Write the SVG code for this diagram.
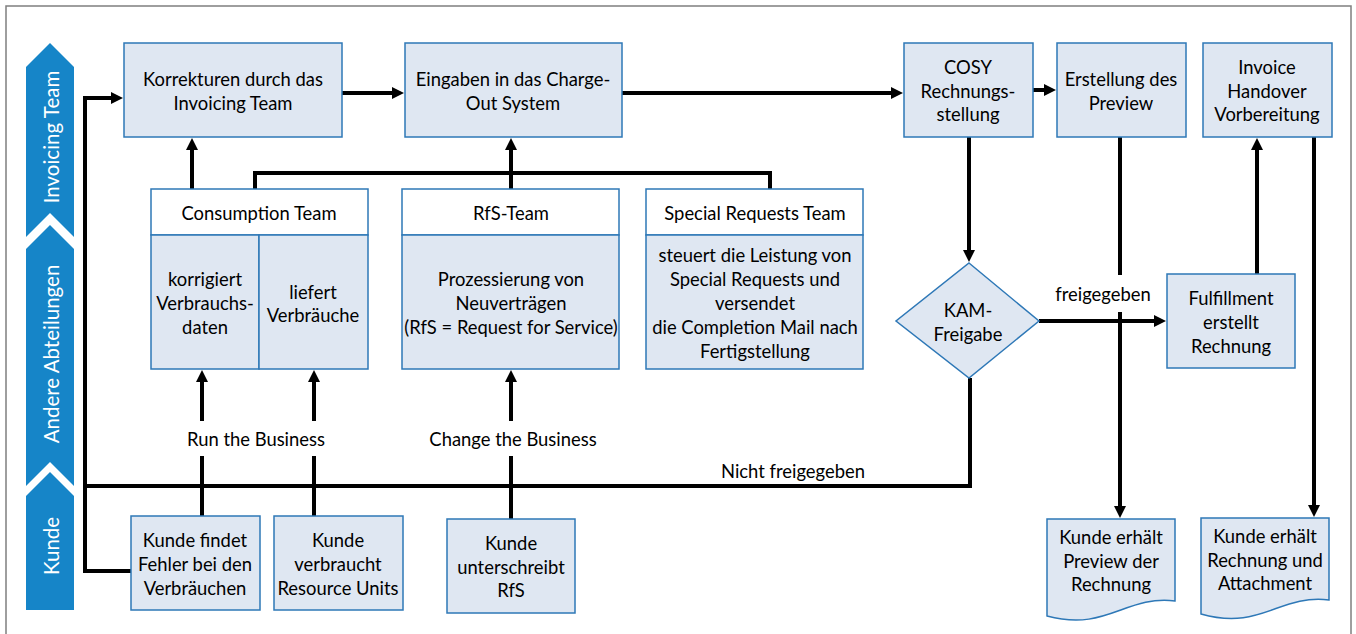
<svg xmlns="http://www.w3.org/2000/svg" width="1356" height="634" viewBox="0 0 1356 634">
<style>
.frame{fill:#fff;stroke:#7f7f7f;stroke-width:1.5}
.lane{fill:#1685c8}
.lt{font-family:Lato,"Open Sans",sans-serif;font-size:20.5px;fill:#fff;text-anchor:middle}
.box{fill:#dfe7f2;stroke:#2e78b7;stroke-width:1.5}
.hdr{fill:#fff;stroke:#2e78b7;stroke-width:1.5}
.t{font-family:Lato,"Open Sans",sans-serif;font-size:18.4px;fill:#000;text-anchor:middle;dominant-baseline:central}
.c{fill:none;stroke:#000;stroke-width:4}
.a{marker-end:url(#ah)}
</style>
<defs>
<marker id="ah" viewBox="0 0 12 12" refX="1" refY="6" markerWidth="12" markerHeight="12" markerUnits="userSpaceOnUse" orient="auto">
<path d="M0,0 L12,6 L0,12 Z" fill="#000"/>
</marker>
</defs>
<rect class="frame" x="6" y="6" width="1345" height="640"/>

<g id="lane-invoicing">
<polygon class="lane" points="50,43 74,67 74,237 50,213 26,237 26,67"/>
<text class="lt" transform="translate(59,137) rotate(-90)">Invoicing Team</text>
</g>
<g id="lane-andere">
<polygon class="lane" points="50,225 74,249 74,486 50,462 26,486 26,249"/>
<text class="lt" transform="translate(59,354) rotate(-90)">Andere Abteilungen</text>
</g>
<g id="lane-kunde">
<polygon class="lane" points="50,472 74,496 74,610 26,610 26,496"/>
<text class="lt" transform="translate(59,546) rotate(-90)">Kunde</text>
</g>

<g id="connectors">
<path class="c a" d="M342,93 H393"/>
<path class="c a" d="M622,93 H892"/>
<path class="c a" d="M1033,90 H1045"/>
<path class="c a" d="M192,189 V149"/>
<path class="c" d="M255,189 V173 H770 V189"/>
<path class="c a" d="M511,189 V149"/>
<path class="c a" d="M969,137 V251"/>
<path class="c a" d="M1039,321 H1155"/>
<path class="c" d="M1120,137 V275"/>
<path class="c a" d="M1120,312 V507"/>
<path class="c a" d="M1257,274 V149"/>
<path class="c a" d="M1314,137 V506"/>
<path class="c a" d="M970,378 V486 H85 V98 H112"/>
<path class="c" d="M131,571 H85 V486"/>
<path class="c" d="M202,516 V456"/>
<path class="c a" d="M202,421 V381"/>
<path class="c" d="M314,516 V456"/>
<path class="c a" d="M314,421 V381"/>
<path class="c" d="M511,519 V456"/>
<path class="c a" d="M511,421 V381"/>
<text class="t" x="256" y="439">Run the Business</text>
<text class="t" x="513" y="439">Change the Business</text>
<text class="t" x="793" y="471">Nicht freigegeben</text>
<text class="t" x="1103" y="294">freigegeben</text>
</g>

<g id="korrekturen">
<rect class="box" x="124" y="43" width="218" height="94"/>
<text class="t" x="233" y="79">Korrekturen durch das</text>
<text class="t" x="233" y="103">Invoicing Team</text>
</g>
<g id="eingaben">
<rect class="box" x="405" y="43" width="217" height="94"/>
<text class="t" x="513" y="79">Eingaben in das Charge-</text>
<text class="t" x="513" y="103">Out System</text>
</g>
<g id="cosy">
<rect class="box" x="904" y="43" width="129" height="94"/>
<text class="t" x="968" y="67">COSY</text>
<text class="t" x="968" y="91">Rechnungs-</text>
<text class="t" x="968" y="114">stellung</text>
</g>
<g id="erstellung">
<rect class="box" x="1057" y="43" width="129" height="94"/>
<text class="t" x="1121" y="79">Erstellung des</text>
<text class="t" x="1121" y="103">Preview</text>
</g>
<g id="handover">
<rect class="box" x="1203" y="43" width="129" height="94"/>
<text class="t" x="1267" y="67">Invoice</text>
<text class="t" x="1267" y="91">Handover</text>
<text class="t" x="1267" y="114">Vorbereitung</text>
</g>

<g id="consumption">
<rect class="hdr" x="151" y="189" width="217" height="46"/>
<text class="t" x="259" y="213">Consumption Team</text>
<rect class="box" x="151" y="235" width="108" height="134"/>
<rect class="box" x="259" y="235" width="109" height="134"/>
<text class="t" x="205" y="279">korrigiert</text>
<text class="t" x="205" y="303">Verbrauchs-</text>
<text class="t" x="205" y="327">daten</text>
<text class="t" x="313" y="292">liefert</text>
<text class="t" x="313" y="315">Verbräuche</text>
</g>
<g id="rfs-team">
<rect class="hdr" x="402" y="189" width="217" height="46"/>
<text class="t" x="511" y="213">RfS-Team</text>
<rect class="box" x="402" y="235" width="217" height="134"/>
<text class="t" x="511" y="279">Prozessierung von</text>
<text class="t" x="511" y="303">Neuverträgen</text>
<text class="t" x="511" y="327">(RfS = Request for Service)</text>
</g>
<g id="special-requests">
<rect class="hdr" x="646" y="189" width="217" height="46"/>
<text class="t" x="755" y="213">Special Requests Team</text>
<rect class="box" x="646" y="235" width="217" height="134"/>
<text class="t" x="755" y="255">steuert die Leistung von</text>
<text class="t" x="755" y="279">Special Requests und</text>
<text class="t" x="755" y="303">versendet</text>
<text class="t" x="755" y="327">die Completion Mail nach</text>
<text class="t" x="755" y="351">Fertigstellung</text>
</g>

<g id="kam-freigabe">
<polygon class="box" points="969,263 1039,321 969,378 896,321"/>
<text class="t" x="968" y="310">KAM-</text>
<text class="t" x="968" y="334">Freigabe</text>
</g>
<g id="fulfillment">
<rect class="box" x="1167" y="274" width="128" height="94"/>
<text class="t" x="1231" y="298">Fulfillment</text>
<text class="t" x="1231" y="322">erstellt</text>
<text class="t" x="1231" y="346">Rechnung</text>
</g>

<g id="kunde-findet">
<rect class="box" x="131" y="516" width="129" height="94"/>
<text class="t" x="195" y="540">Kunde findet</text>
<text class="t" x="195" y="564">Fehler bei den</text>
<text class="t" x="195" y="588">Verbräuchen</text>
</g>
<g id="kunde-verbraucht">
<rect class="box" x="274" y="516" width="129" height="94"/>
<text class="t" x="338" y="540">Kunde</text>
<text class="t" x="338" y="564">verbraucht</text>
<text class="t" x="338" y="588">Resource Units</text>
</g>
<g id="kunde-unterschreibt">
<rect class="box" x="447" y="519" width="128" height="94"/>
<text class="t" x="511" y="543">Kunde</text>
<text class="t" x="511" y="567">unterschreibt</text>
<text class="t" x="511" y="590">RfS</text>
</g>

<g id="doc-preview">
<path class="box" d="M1047,519 H1175 V601 C1125,595 1107,632 1047,616 Z"/>
<text class="t" x="1111" y="537">Kunde erhält</text>
<text class="t" x="1111" y="561">Preview der</text>
<text class="t" x="1111" y="584">Rechnung</text>
</g>
<g id="doc-rechnung">
<path class="box" d="M1201,518 H1329 V600 C1279,594 1261,631 1201,614 Z"/>
<text class="t" x="1265" y="536">Kunde erhält</text>
<text class="t" x="1265" y="560">Rechnung und</text>
<text class="t" x="1265" y="583">Attachment</text>
</g>
</svg>
